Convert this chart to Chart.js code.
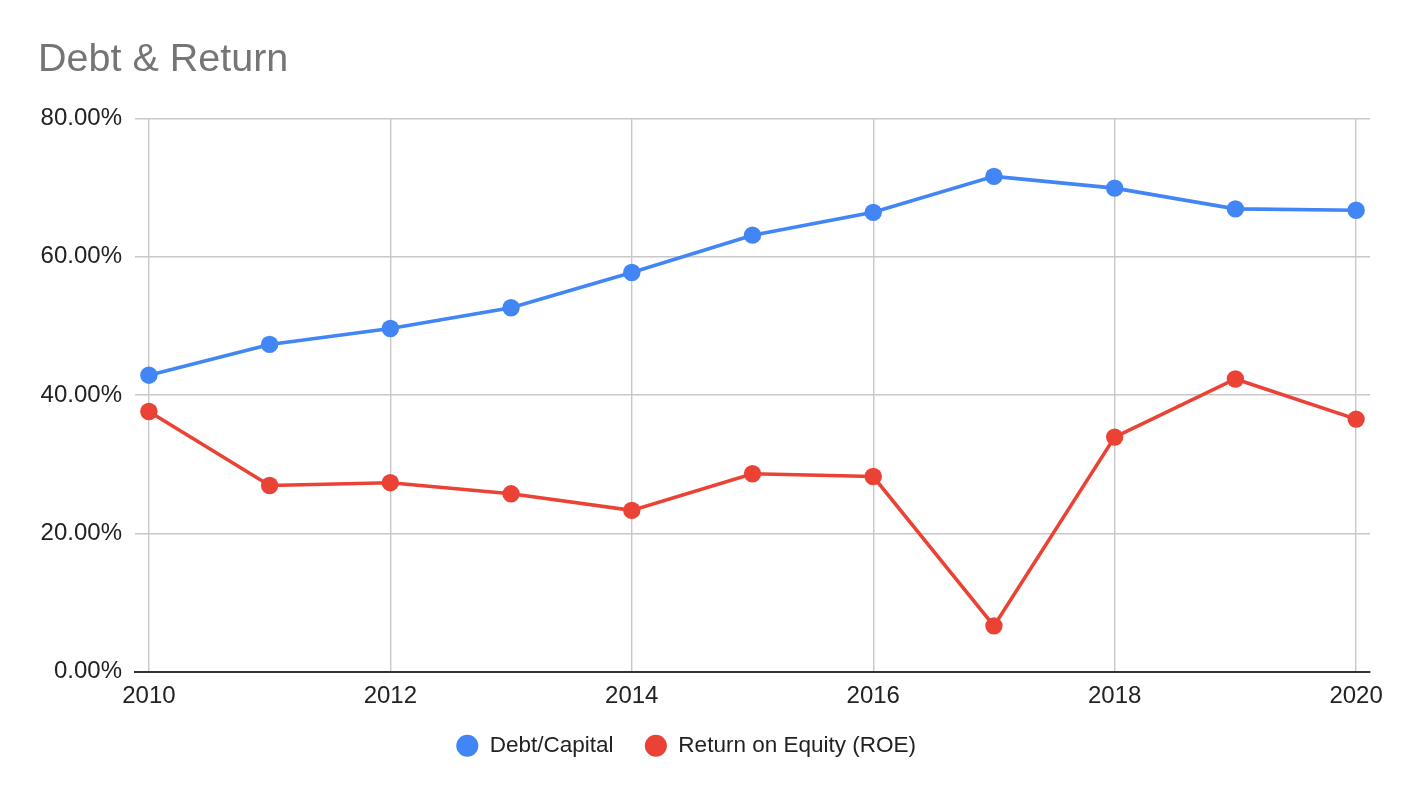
<!DOCTYPE html>
<html>
<head>
<meta charset="utf-8">
<title>Debt & Return</title>
<script src="https://cdn.jsdelivr.net/npm/chart.js@4.4.1/dist/chart.umd.min.js"></script>
<style>
  html, body { margin: 0; padding: 0; background: #fff; }
  #wrap { width: 1410px; height: 798px; position: relative; }
</style>
</head>
<body>
<div id="wrap"><canvas id="chart"></canvas></div>
<script>
// data (percent)
var years = [2010, 2011, 2012, 2013, 2014, 2015, 2016, 2017, 2018, 2019, 2020];
var debtCapital = [42.85, 47.3, 49.6, 52.6, 57.7, 63.1, 66.4, 71.6, 69.9, 66.9, 66.7];
var roe = [37.6, 26.9, 27.3, 25.7, 23.3, 28.6, 28.2, 6.6, 33.9, 42.3, 36.5];
var xTicks = [2010, 2012, 2014, 2016, 2018, 2020];
var yTicks = [0, 20, 40, 60, 80];

var FONT = '"Liberation Sans", Arial, sans-serif';

function points(values) {
    return years.map(function (y, i) { return { x: y, y: values[i] }; });
}

// move the legend a bit left and up, like the original
var legendShift = {
    id: 'legendShift',
    afterLayout: function (chart) {
        var lg = chart.legend;
        if (lg) {
            lg.left -= 18;
            lg.right -= 18;
            lg.top -= 10;
            lg.bottom -= 10;
        }
    }
};

var ctx = document.getElementById('chart').getContext('2d');
var chart = new Chart(ctx, {
    type: 'line',
    data: {
        datasets: [{
            label: 'Debt/Capital',
            data: points(debtCapital),
            borderColor: '#4285f4',
            backgroundColor: '#4285f4',
            borderWidth: 3.6,
            pointRadius: 8.7,
            pointBorderWidth: 0,
            pointHoverRadius: 8.7,
            tension: 0
        }, {
            label: 'Return on Equity (ROE)',
            data: points(roe),
            borderColor: '#ea4335',
            backgroundColor: '#ea4335',
            borderWidth: 3.6,
            pointRadius: 8.7,
            pointBorderWidth: 0,
            pointHoverRadius: 8.7,
            tension: 0
        }]
    },
    options: {
        responsive: true,
        maintainAspectRatio: false,
        animation: false,
        clip: false,
        layout: { padding: { left: 38, right: 40, top: 0, bottom: 21 } },
        plugins: {
            title: {
                display: true,
                text: 'Debt & Return',
                align: 'start',
                color: '#757575',
                font: { family: FONT, size: 39.5, weight: 'normal' },
                padding: { top: 36.8, bottom: 34.1 }
            },
            legend: {
                position: 'bottom',
                labels: {
                    usePointStyle: true,
                    pointStyle: 'circle',
                    boxWidth: 22.5,
                    boxHeight: 15.6,
                    padding: 31,
                    color: '#222',
                    font: { family: FONT, size: 22.5 }
                }
            },
            tooltip: { enabled: false }
        },
        scales: {
            x: {
                type: 'linear',
                min: 2009.885,
                max: 2020.115,
                afterBuildTicks: function (scale) {
                    scale.ticks = xTicks.map(function (v) { return { value: v }; });
                },
                afterFit: function (scale) { scale.height = 42; },
                grid: { color: '#c8c8c8', lineWidth: 1.4, drawTicks: false },
                border: { color: '#333', width: 2 },
                ticks: {
                    padding: 10,
                    color: '#222',
                    font: { family: FONT, size: 24 },
                    maxRotation: 0,
                    callback: function (v) { return String(v); }
                }
            },
            y: {
                min: 0,
                max: 80,
                afterBuildTicks: function (scale) {
                    scale.ticks = yTicks.map(function (v) { return { value: v }; });
                },
                afterFit: function (scale) { scale.width = 97; },
                grid: { color: '#c8c8c8', lineWidth: 1.4, drawTicks: false },
                border: { display: false },
                ticks: {
                    padding: 13,
                    color: '#222',
                    font: { family: FONT, size: 24 },
                    callback: function (v) { return v.toFixed(2) + '%'; }
                }
            }
        }
    },
    plugins: [legendShift]
});
</script>
</body>
</html>
